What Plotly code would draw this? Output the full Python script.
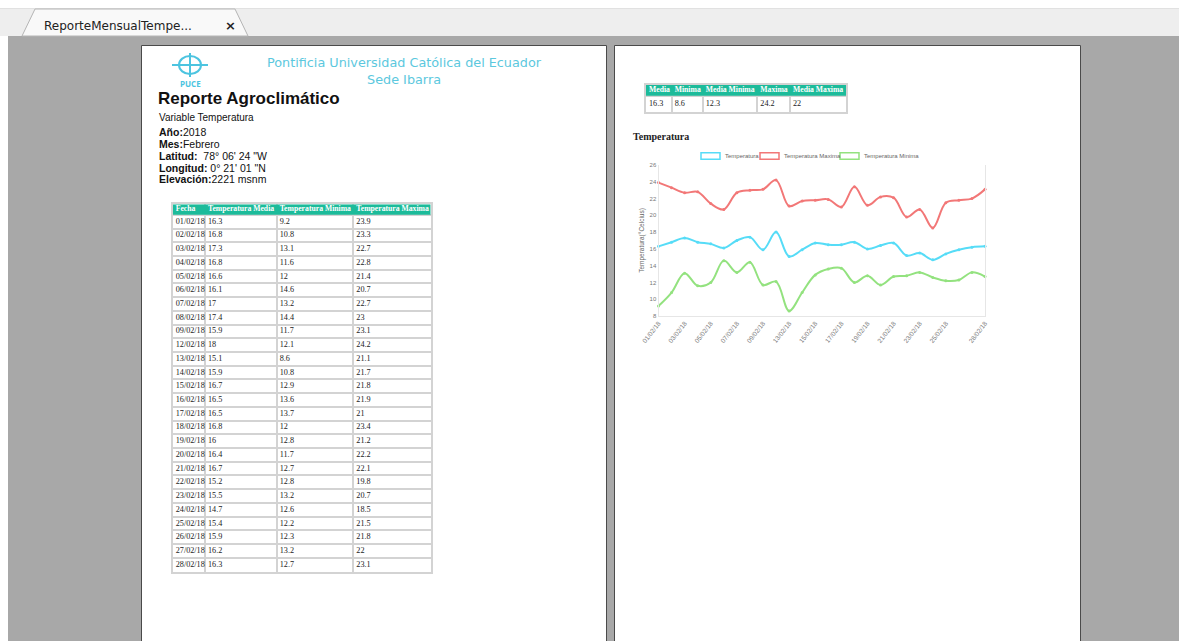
import plotly.graph_objects as go

# ---------------- data ----------------
fechas = ['01/02/18', '02/02/18', '03/02/18', '04/02/18', '05/02/18', '06/02/18', '07/02/18',
          '08/02/18', '09/02/18', '12/02/18', '13/02/18', '14/02/18', '15/02/18', '16/02/18',
          '17/02/18', '18/02/18', '19/02/18', '20/02/18', '21/02/18', '22/02/18', '23/02/18',
          '24/02/18', '25/02/18', '26/02/18', '27/02/18', '28/02/18']
media = [16.3, 16.8, 17.3, 16.8, 16.6, 16.1, 17, 17.4, 15.9, 18, 15.1, 15.9, 16.7, 16.5,
         16.5, 16.8, 16, 16.4, 16.7, 15.2, 15.5, 14.7, 15.4, 15.9, 16.2, 16.3]
minima = [9.2, 10.8, 13.1, 11.6, 12, 14.6, 13.2, 14.4, 11.7, 12.1, 8.6, 10.8, 12.9, 13.6,
          13.7, 12, 12.8, 11.7, 12.7, 12.8, 13.2, 12.6, 12.2, 12.3, 13.2, 12.7]
maxima = [23.9, 23.3, 22.7, 22.8, 21.4, 20.7, 22.7, 23, 23.1, 24.2, 21.1, 21.7, 21.8, 21.9,
          21, 23.4, 21.2, 22.2, 22.1, 19.8, 20.7, 18.5, 21.5, 21.8, 22, 23.1]
tabla_cabecera = ['Fecha', 'Temperatura Media', 'Temperatura Minima', 'Temperatura Maxima']
resumen_cabecera = ['Media', 'Minima', 'Media Minima', 'Maxima', 'Media Maxima']
resumen_valores = [16.3, 8.6, 12.3, 24.2, 22]
series_nombres = ['Temperatura', 'Temperatura Maxima', 'Temperatura Minima']
eje_x_ticks = ['01/02/18', '03/02/18', '05/02/18', '07/02/18', '09/02/18', '13/02/18',
               '15/02/18', '17/02/18', '19/02/18', '21/02/18', '23/02/18', '25/02/18', '28/02/18']
eje_y_ticks = [8, 10, 12, 14, 16, 18, 20, 22, 24, 26]

# ---------------- helpers ----------------
W, H = 1179, 641


def X(px):
    return px / W


def Y(py):
    return 1 - py / H


def fmt(v):
    return f"{v:g}"


fig = go.Figure()
shapes = []
annots = []

# ---------------- viewer chrome ----------------
shapes.append(dict(type='rect', xref='paper', yref='paper', x0=0, x1=1, y0=Y(0), y1=Y(8.5),
                   fillcolor='#ffffff', line=dict(width=0), layer='below'))
shapes.append(dict(type='rect', xref='paper', yref='paper', x0=0, x1=1, y0=Y(8.5), y1=Y(36),
                   fillcolor='#eeeeee', line=dict(width=0), layer='below'))
shapes.append(dict(type='rect', xref='paper', yref='paper', x0=0, x1=X(8), y0=Y(36), y1=Y(641),
                   fillcolor='#ffffff', line=dict(width=0), layer='below'))
tab_path = "M {} {} L {} {} L {} {} L {} {} Z".format(X(22), Y(36), X(35), Y(9), X(235), Y(9), X(248), Y(36))
shapes.append(dict(type='path', xref='paper', yref='paper', path=tab_path,
                   fillcolor='#f9f9f9', line=dict(color='#b5b5b5', width=1), layer='below'))
annots.append(dict(x=X(42), y=Y(25.5), xref='paper', yref='paper', xanchor='left', yanchor='middle',
                   text='ReporteMensualTempe...', showarrow=False,
                   font=dict(family='DejaVu Sans', size=12, color='#222222')))
annots.append(dict(x=X(230), y=Y(26), xref='paper', yref='paper', xanchor='center', yanchor='middle',
                   text='<b>×</b>', showarrow=False,
                   font=dict(family='DejaVu Sans', size=13, color='#222222')))

# pages
for x0, x1 in [(141.5, 606.5), (614.5, 1080.5)]:
    shapes.append(dict(type='rect', xref='paper', yref='paper', x0=X(x0), x1=X(x1), y0=Y(700), y1=Y(45.5),
                       fillcolor='#ffffff', line=dict(color='#4a4a4a', width=1), layer='below'))

# ---------------- page 1 header ----------------
logo = '#4cc4e0'
shapes.append(dict(type='circle', xref='paper', yref='paper', x0=X(179), x1=X(201), y0=Y(74), y1=Y(56),
                   line=dict(color=logo, width=2), layer='below'))
shapes.append(dict(type='line', xref='paper', yref='paper', x0=X(172), x1=X(208), y0=Y(65), y1=Y(65),
                   line=dict(color=logo, width=2), layer='below'))
shapes.append(dict(type='line', xref='paper', yref='paper', x0=X(190), x1=X(190), y0=Y(53), y1=Y(77),
                   line=dict(color=logo, width=2), layer='below'))
annots.append(dict(x=X(190), y=Y(84), xref='paper', yref='paper', xanchor='center', yanchor='middle',
                   text='<b>PUCE</b>', showarrow=False, font=dict(family='Open Sans', size=8, color=logo)))
annots.append(dict(x=X(404), y=Y(71.3), xref='paper', yref='paper', xanchor='center', yanchor='middle',
                   text='Pontificia Universidad Católica del Ecuador<br>Sede Ibarra', showarrow=False,
                   font=dict(family='DejaVu Sans', size=12.8, color='#5cc8de')))
annots.append(dict(x=X(156), y=Y(98.5), xref='paper', yref='paper', xanchor='left', yanchor='middle',
                   text='<b>Reporte Agroclimático</b>', showarrow=False,
                   font=dict(family='Liberation Sans', size=17, color='#111111')))
annots.append(dict(x=X(156.5), y=Y(117.3), xref='paper', yref='paper', xanchor='left', yanchor='middle',
                   text='Variable Temperatura', showarrow=False,
                   font=dict(family='Liberation Sans', size=10, color='#111111')))
info_lines = ['<b>Año:</b>2018', '<b>Mes:</b>Febrero', '<b>Latitud:</b>  78° 06\' 24 "W',
              '<b>Longitud:</b> 0° 21\' 01 "N', '<b>Elevación:</b>2221 msnm']
for i, t in enumerate(info_lines):
    annots.append(dict(x=X(156.5), y=Y(132.5 + i * 11.7), xref='paper', yref='paper', xanchor='left',
                       yanchor='middle', text=t, showarrow=False,
                       font=dict(family='Liberation Sans', size=10.5, color='#111111')))

# ---------------- tables ----------------
HEAD_BG = '#1cbb9a'
GRID = '#d3d3d3'
CELL_FONT = dict(family='Liberation Serif', size=8.2, color='#222222')
HEAD_FONT = dict(family='Liberation Serif', size=7.7, color='#ffffff', weight='bold')


def add_table(xa, ya, headers, columns, bounds, head_frac, xdom, ydom):
    n = len(columns[0])
    htop = -0.5 - head_frac
    hmid = -0.5 - head_frac / 2
    fig.add_trace(go.Scatter(x=[b + 3 for b in bounds[:-1]], y=[hmid] * len(headers), text=headers,
                             mode='text', textposition='middle right', textfont=HEAD_FONT,
                             xaxis=xa, yaxis=ya, hoverinfo='skip', cliponaxis=False))
    for j, col in enumerate(columns):
        fig.add_trace(go.Scatter(x=[bounds[j] + 3] * n, y=list(range(n)), text=col,
                                 mode='text', textposition='middle right', textfont=CELL_FONT,
                                 xaxis=xa, yaxis=ya, hoverinfo='skip', cliponaxis=False))
    axcommon = dict(showticklabels=False, ticks='', zeroline=False, showgrid=True, gridcolor=GRID,
                    gridwidth=1.5, showline=True, mirror=True, linecolor=GRID, linewidth=1.5,
                    fixedrange=True, automargin=False)
    xk = 'xaxis' + xa[1:]
    yk = 'yaxis' + ya[1:]
    fig.update_layout(**{
        xk: dict(domain=xdom, range=[bounds[0], bounds[-1]], tickvals=bounds, anchor=ya, **axcommon),
        yk: dict(domain=ydom, range=[n - 0.5, htop], tickvals=[htop] + [i + 0.5 for i in range(-1, n)],
                 anchor=xa, **axcommon),
    })
    shapes.append(dict(type='rect', xref=xa, yref=ya, x0=bounds[0], x1=bounds[-1], y0=htop, y1=-0.5,
                       fillcolor=HEAD_BG, line=dict(width=0), layer='between'))


add_table('x2', 'y2', tabla_cabecera,
          [fechas, [fmt(v) for v in media], [fmt(v) for v in minima], [fmt(v) for v in maxima]],
          [0, 32.3, 104, 180.6, 258], 10.5 / 13.72,
          [X(172.7), X(430.7)], [Y(571.5), Y(204.3)])

add_table('x3', 'y3', resumen_cabecera, [[fmt(v)] for v in resumen_valores],
          [0, 25.7, 56.7, 111.3, 144, 200], 10.7 / 16.6,
          [X(646), X(846)], [Y(112.3), Y(85)])

# ---------------- chart ----------------
annots.append(dict(x=X(631), y=Y(136.5), xref='paper', yref='paper', xanchor='left', yanchor='middle',
                   text='<b>Temperatura</b>', showarrow=False,
                   font=dict(family='Liberation Serif', size=10, color='#222222')))

colores = ['#56dcf7', '#f27777', '#93e27f']
for nombre, vals, col in zip(series_nombres, [media, maxima, minima], colores):
    fig.add_trace(go.Scatter(x=fechas, y=vals, name=nombre, mode='lines+markers',
                             line=dict(color=col, width=2, shape='spline', smoothing=1.0),
                             marker=dict(size=3, color=col), xaxis='x', yaxis='y',
                             cliponaxis=False, hoverinfo='skip'))

# legend (chart.js style boxes)
leg_x = [701, 760, 840]
for nombre, col, lx in zip(series_nombres, colores, leg_x):
    shapes.append(dict(type='rect', xref='paper', yref='paper', x0=X(lx), x1=X(lx + 19),
                       y0=Y(159.3), y1=Y(152.7), fillcolor='rgba(255,255,255,0.6)',
                       line=dict(color=col, width=1.5), layer='above'))
    annots.append(dict(x=X(lx + 22), y=Y(156), xref='paper', yref='paper', xanchor='left',
                       yanchor='middle', text=nombre, showarrow=False,
                       font=dict(family='Liberation Sans', size=6, color='#666666')))

fig.update_layout(
    xaxis=dict(domain=[X(658.5), X(985)], type='category', range=[0, len(fechas) - 1],
               tickvals=eje_x_ticks, ticktext=eje_x_ticks, tickangle=-52,
               tickfont=dict(family='Liberation Sans', size=6.5, color='#777777'),
               showline=True, linecolor='#e6e6e6', linewidth=1, showgrid=False, ticks='',
               zeroline=False, anchor='y', fixedrange=True, automargin=False),
    yaxis=dict(domain=[Y(316), Y(165)], range=[8, 26], tickvals=eje_y_ticks,
               tickfont=dict(family='Liberation Sans', size=6, color='#777777'),
               showline=True, mirror=True, linecolor='#e6e6e6', linewidth=1, showgrid=False,
               ticks='', zeroline=False, anchor='x', fixedrange=True, automargin=False,
               title=dict(text='Temperatura(°Celcius)', standoff=4,
                          font=dict(family='Liberation Sans', size=6.5, color='#666666'))),
)

fig.update_layout(
    width=W, height=H, autosize=False,
    margin=dict(l=0, r=0, t=0, b=0, pad=0, autoexpand=False),
    paper_bgcolor='#a8a8a8', plot_bgcolor='rgba(0,0,0,0)', showlegend=False,
    shapes=shapes, annotations=annots,
)

post = (
    "document.documentElement.style.margin='0';"
    "document.documentElement.style.padding='0';"
    "document.documentElement.style.overflow='hidden';"
    "document.body.style.margin='0';"
    "document.body.style.padding='0';"
    "document.body.style.overflow='hidden';"
    "var gd=document.getElementById('{plot_id}');"
    "gd.style.position='absolute';gd.style.left='0px';gd.style.top='0px';"
    "gd.style.width='1179px';gd.style.height='641px';"
)

fig.write_html("out.html", config={'displayModeBar': False, 'responsive': False},
               default_width='1179px', default_height='641px', post_script=post)
